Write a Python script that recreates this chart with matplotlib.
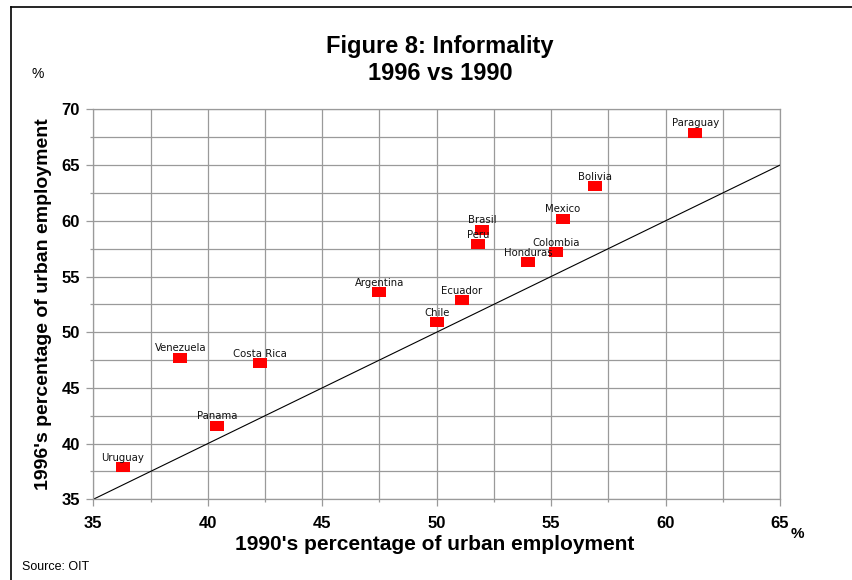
"""Figure 8: informality in 1996 vs 1990, share of urban employment."""

import matplotlib

matplotlib.use("Agg")
import matplotlib.pyplot as plt
from matplotlib.lines import Line2D
from matplotlib.ticker import MultipleLocator


countries = [
    "Paraguay", "Bolivia", "Mexico", "Brasil", "Peru", "Colombia", "Honduras",
    "Ecuador", "Chile", "Argentina", "Venezuela", "Costa Rica", "Panama", "Uruguay",
]
informal_1990 = [61.3, 56.9, 55.5, 52.0, 51.8, 55.2, 54.0, 51.1, 50.0, 47.5, 38.8, 42.3, 40.4, 36.3]
informal_1996 = [67.9, 63.1, 60.2, 59.2, 57.9, 57.2, 56.3, 52.9, 50.9, 53.6, 47.7, 47.2, 41.6, 37.9]
diagonal = [35, 65]

W, H = 852, 580


def main() -> None:
    plt.rcParams.update({"font.family": ["Liberation Sans", "DejaVu Sans"]})
    fig = plt.figure(figsize=(W / 100, H / 100), dpi=100)
    ax = fig.add_axes([93.3 / W, 1 - 499.3 / H, (780 - 93.3) / W, (499.3 - 109.4) / H])

    grid_c = "#9a9a9a"
    ax.set_xlim(35, 65)
    ax.set_ylim(35, 70)
    ax.xaxis.set_major_locator(MultipleLocator(5))
    ax.xaxis.set_minor_locator(MultipleLocator(2.5))
    ax.yaxis.set_major_locator(MultipleLocator(5))
    ax.yaxis.set_minor_locator(MultipleLocator(2.5))
    ax.grid(which="both", color=grid_c, linewidth=0.9)
    ax.set_axisbelow(True)
    for side in ax.spines.values():
        side.set_color(grid_c)
        side.set_linewidth(0.9)
    ax.tick_params(which="major", length=4.7, width=0.9, color=grid_c, labelsize=12)
    ax.tick_params(which="minor", length=2.4, width=0.9, color=grid_c)
    ax.tick_params(axis="x", which="major", pad=7.5)
    ax.tick_params(axis="y", which="major", pad=5.0)
    for lab in ax.get_xticklabels() + ax.get_yticklabels():
        lab.set_fontweight("bold")

    ax.plot(diagonal, diagonal, color="black", linewidth=0.8)

    rect = [(-1.45, -1), (1.45, -1), (1.45, 1), (-1.45, 1), (-1.45, -1)]
    ax.plot(informal_1990, informal_1996, linestyle="none", marker=rect,
            markersize=9.4, color="#ff0000", markeredgewidth=0, zorder=3)
    for name, x, y in zip(countries, informal_1990, informal_1996):
        ax.annotate(name, (x, y), xytext=(0, 4.6), textcoords="offset points",
                    ha="center", va="baseline", fontsize=7.3,
                    family="DejaVu Sans", color="#111111", zorder=4)

    fig.text(440 / W, 1 - 47 / H, "Figure 8: Informality", ha="center", va="center",
             fontsize=17, fontweight="bold")
    fig.text(440 / W, 1 - 74 / H, "1996 vs 1990", ha="center", va="center",
             fontsize=17, fontweight="bold")
    fig.text(37.5 / W, 1 - 74 / H, "%", ha="center", va="center", fontsize=10)
    fig.text(797 / W, 1 - 534 / H, "%", ha="center", va="center", fontsize=11, fontweight="bold")
    fig.text(435 / W, 1 - 545 / H, "1990's percentage of urban employment",
             ha="center", va="center", fontsize=15, fontweight="bold")
    fig.text(44 / W, 1 - 304 / H, "1996's percentage of urban employment",
             ha="center", va="center", rotation=90, fontsize=14, fontweight="bold")
    fig.text(22 / W, 1 - 567 / H, "Source: OIT", ha="left", va="center", fontsize=9)

    # frame remnants: left and top edges only
    fig.add_artist(Line2D([10.5 / W, 10.5 / W], [0, 1 - 6.5 / H], color="black", linewidth=1.2))
    fig.add_artist(Line2D([10.5 / W, 1], [1 - 6.5 / H, 1 - 6.5 / H], color="black", linewidth=1.2))

    fig.savefig("out.png", dpi=100)
    plt.close(fig)


if __name__ == "__main__":
    main()
